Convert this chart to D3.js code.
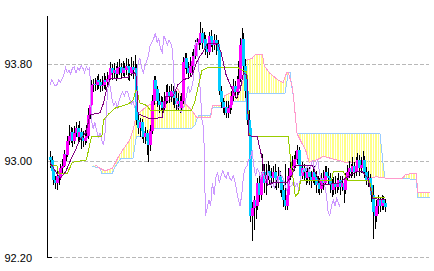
<!DOCTYPE html>
<html>
<head>
<meta charset="utf-8">
<script src="https://cdn.jsdelivr.net/npm/d3@7"></script>
<style>
body { margin: 0; background: #fff; }
svg { display: block; }
</style>
</head>
<body>
<div id="chart"></div>
<script>
// price bars, open = previous close
const firstOpen = 93.03
const closes = [
  93.01, 92.92, 92.84, 92.82, 92.88, 92.86, 92.94, 92.96, 93.06, 93.05,
  93.17, 93.21, 93.24, 93.17, 93.23, 93.27, 93.20, 93.24, 93.19, 93.17,
  93.19, 93.21, 93.38, 93.46, 93.63, 93.64, 93.63, 93.67, 93.65, 93.62,
  93.63, 93.67, 93.65, 93.68, 93.71, 93.77, 93.73, 93.75, 93.72, 93.77,
  93.78, 93.73, 93.77, 93.75, 93.79, 93.77, 93.73, 93.78, 93.75, 93.77,
  93.34, 93.27, 93.32, 93.25, 93.20, 93.23, 93.17, 93.13, 93.25, 93.50,
  93.67, 93.60, 93.50, 93.46, 93.49, 93.44, 93.50, 93.54, 93.57, 93.54,
  93.58, 93.57, 93.52, 93.47, 93.50, 93.44, 93.50, 93.82, 93.85, 93.77,
  93.73, 93.79, 93.83, 93.87, 93.96, 93.98, 94.01, 94.06, 93.98, 94.01,
  93.93, 93.90, 94.03, 94.00, 93.96, 94.00, 93.97, 93.91, 93.58, 93.49,
  93.44, 93.45, 93.40, 93.44, 93.46, 93.54, 93.62, 93.57, 93.60, 93.68,
  93.96, 94.01, 93.79, 93.58, 93.34, 93.27, 92.55, 92.61, 92.68, 92.63,
  92.82, 92.72, 92.86, 92.91, 92.82, 92.88, 92.92, 92.88, 92.86, 92.91,
  92.86, 92.84, 92.88, 92.84, 92.76, 92.68, 92.63, 92.72, 92.88, 92.94,
  92.96, 93.01, 93.02, 93.09, 92.96, 92.88, 92.94, 92.91, 92.86, 92.91,
  92.87, 92.84, 92.91, 92.87, 92.80, 92.82, 92.77, 92.86, 92.82, 92.91,
  92.88, 92.86, 92.80, 92.76, 92.82, 92.79, 92.80, 92.84, 92.79, 92.82,
  92.76, 92.86, 92.91, 92.94, 92.91, 92.96, 92.91, 92.96, 93.01, 92.94,
  92.97, 93.01, 92.91, 92.84, 92.86, 92.80, 92.72, 92.58, 92.55, 92.63,
  92.68, 92.63, 92.69, 92.65, 92.62
]
const highs = [
  93.08, 93.04, 92.95, 92.88, 92.92, 92.93, 92.98, 93.02, 93.09, 93.12,
  93.21, 93.30, 93.28, 93.27, 93.29, 93.32, 93.30, 93.33, 93.27, 93.25,
  93.26, 93.30, 93.44, 93.55, 93.67, 93.68, 93.69, 93.70, 93.72, 93.68,
  93.70, 93.73, 93.70, 93.74, 93.76, 93.82, 93.80, 93.81, 93.79, 93.82,
  93.84, 93.81, 93.83, 93.81, 93.85, 93.84, 93.80, 93.86, 93.83, 93.88,
  93.80, 93.38, 93.36, 93.35, 93.30, 93.28, 93.26, 93.22, 93.30, 93.55,
  93.70, 93.70, 93.62, 93.56, 93.54, 93.53, 93.57, 93.63, 93.64, 93.62,
  93.64, 93.62, 93.60, 93.58, 93.56, 93.54, 93.56, 93.86, 93.89, 93.89,
  93.82, 93.86, 93.90, 93.93, 94.00, 94.02, 94.06, 94.15, 94.10, 94.07,
  94.04, 93.97, 94.07, 94.08, 94.03, 94.05, 94.04, 94.00, 93.94, 93.62,
  93.52, 93.50, 93.50, 93.50, 93.52, 93.58, 93.68, 93.66, 93.70, 93.83,
  94.02, 94.10, 94.06, 93.84, 93.62, 93.42, 93.30, 92.66, 92.71, 92.74,
  92.86, 92.89, 92.91, 93.06, 92.98, 92.98, 93.00, 92.97, 92.94, 92.96,
  92.98, 92.92, 92.95, 92.92, 92.88, 92.80, 92.98, 92.80, 92.94, 93.00,
  93.04, 93.05, 93.08, 93.13, 93.12, 93.00, 92.99, 92.98, 92.95, 92.96,
  92.95, 92.92, 92.98, 92.96, 92.92, 92.88, 92.86, 92.90, 92.93, 92.96,
  92.96, 92.94, 92.90, 92.85, 92.87, 92.88, 92.86, 92.90, 92.88, 92.88,
  92.86, 92.90, 92.97, 93.00, 92.98, 93.03, 92.99, 93.03, 93.07, 93.05,
  93.03, 93.08, 93.04, 92.95, 92.92, 92.89, 92.84, 92.80, 92.63, 92.68,
  92.72, 92.70, 92.72, 92.71, 92.69
]
const lows = [
  92.94, 92.90, 92.80, 92.77, 92.76, 92.80, 92.84, 92.90, 92.95, 93.00,
  93.03, 93.13, 93.15, 93.12, 93.14, 93.20, 93.14, 93.16, 93.10, 93.12,
  93.13, 93.15, 93.18, 93.35, 93.44, 93.57, 93.58, 93.59, 93.60, 93.57,
  93.58, 93.60, 93.59, 93.62, 93.64, 93.68, 93.67, 93.68, 93.66, 93.69,
  93.71, 93.68, 93.70, 93.69, 93.71, 93.67, 93.66, 93.70, 93.68, 93.70,
  93.30, 93.22, 93.20, 93.18, 93.15, 93.14, 93.05, 92.99, 93.08, 93.22,
  93.46, 93.55, 93.45, 93.40, 93.42, 93.40, 93.42, 93.47, 93.48, 93.48,
  93.49, 93.46, 93.44, 93.42, 93.41, 93.40, 93.41, 93.47, 93.76, 93.72,
  93.68, 93.70, 93.74, 93.80, 93.84, 93.90, 93.92, 93.96, 93.93, 93.92,
  93.88, 93.85, 93.88, 93.94, 93.90, 93.92, 93.88, 93.85, 93.55, 93.44,
  93.40, 93.38, 93.36, 93.36, 93.39, 93.42, 93.50, 93.52, 93.52, 93.56,
  93.65, 93.90, 93.74, 93.52, 93.30, 93.20, 92.50, 92.34, 92.43, 92.52,
  92.60, 92.66, 92.68, 92.83, 92.74, 92.72, 92.84, 92.80, 92.78, 92.80,
  92.78, 92.76, 92.78, 92.74, 92.70, 92.62, 92.60, 92.60, 92.70, 92.84,
  92.88, 92.92, 92.94, 92.98, 92.90, 92.82, 92.85, 92.84, 92.80, 92.82,
  92.80, 92.78, 92.82, 92.80, 92.74, 92.74, 92.72, 92.74, 92.76, 92.80,
  92.82, 92.80, 92.74, 92.70, 92.72, 92.73, 92.74, 92.76, 92.72, 92.75,
  92.65, 92.73, 92.84, 92.86, 92.86, 92.88, 92.86, 92.88, 92.92, 92.88,
  92.90, 92.94, 92.86, 92.80, 92.79, 92.74, 92.66, 92.36, 92.44, 92.50,
  92.56, 92.58, 92.60, 92.60, 92.58
]

// ichimoku lines: [bar index, price]
const tenkan = [
  [0, 92.99], [3, 92.92], [6, 92.86], [9, 92.91], [12, 93.01], [15, 93.10], [17, 93.17],
  [21, 93.24], [23, 93.38], [29, 93.40], [31, 93.48], [33, 93.61], [35, 93.68], [45, 93.69],
  [47, 93.72], [49, 93.73], [50, 93.70], [51, 93.39], [58, 93.35], [65, 93.36], [67, 93.53],
  [71, 93.53], [74, 93.63], [77, 93.67], [82, 93.70], [85, 93.82], [87, 93.87], [89, 93.91],
  [91, 93.97], [97, 93.97], [99, 93.90], [102, 93.71], [105, 93.61], [108, 93.52], [110, 93.58],
  [112, 93.73], [114, 93.71], [115, 93.21], [120, 93.20], [123, 93.01], [124, 92.91], [126, 92.80],
  [129, 92.82], [137, 92.82], [140, 92.88], [142, 92.96], [152, 92.96], [155, 92.86], [157, 92.80],
  [168, 92.82], [171, 92.86], [177, 92.91], [181, 92.91], [184, 92.86], [187, 92.69], [194, 92.68]
]
const kijun = [
  [0, 92.96], [4, 92.96], [5, 92.90], [10, 92.90], [12, 92.96], [13, 92.99], [21, 93.01],
  [22, 93.07], [24, 93.20], [30, 93.20], [31, 93.34], [34, 93.39], [38, 93.44], [45, 93.47],
  [48, 93.50], [50, 93.60], [52, 93.48], [56, 93.46], [58, 93.42], [82, 93.42], [84, 93.50],
  [86, 93.63], [88, 93.75], [91, 93.77], [109, 93.77], [113, 93.74], [114, 93.74], [115, 93.23],
  [117, 93.20], [138, 93.20], [139, 93.05], [142, 92.71], [144, 92.74], [145, 92.84], [163, 92.84],
  [164, 92.91], [170, 92.91], [172, 92.84], [185, 92.84], [187, 92.70], [194, 92.70]
]
const spanA = [
  [26, 92.97], [29, 92.94], [32, 92.92], [36, 92.94], [38, 92.99], [39, 93.02], [42, 93.09],
  [46, 93.17], [48, 93.25], [50, 93.38], [55, 93.44], [58, 93.47], [69, 93.50], [72, 93.54],
  [74, 93.60], [76, 93.54], [78, 93.48], [82, 93.42], [85, 93.36], [93, 93.36], [94, 93.46],
  [100, 93.46], [101, 93.54], [105, 93.57], [110, 93.60], [112, 93.67], [113, 93.83], [117, 93.85],
  [119, 93.88], [123, 93.88], [124, 93.79], [127, 93.73], [132, 93.67], [135, 93.65], [137, 93.73],
  [138, 93.73], [140, 93.63], [141, 93.53], [142, 93.38], [143, 93.23], [145, 93.17], [148, 93.09],
  [150, 92.99], [156, 93.02], [158, 93.04], [166, 93.01], [171, 92.99], [178, 92.99], [181, 92.91],
  [185, 92.86], [189, 92.87], [194, 92.86], [204, 92.86], [206, 92.89], [212, 92.90], [213, 92.74],
  [220, 92.74]
]
const spanB = [
  [24, 92.96], [29, 92.94], [30, 92.90], [36, 92.90], [38, 92.96], [39, 92.98], [41, 93.02],
  [48, 93.02], [50, 93.20], [57, 93.20], [58, 93.27], [82, 93.27], [84, 93.30], [86, 93.38],
  [93, 93.38], [94, 93.44], [104, 93.44], [105, 93.49], [113, 93.49], [114, 93.56], [136, 93.56],
  [138, 93.73], [139, 93.73], [140, 93.61], [141, 93.53], [142, 93.38], [143, 93.23], [191, 93.23],
  [193, 92.96], [194, 92.86], [212, 92.85], [213, 92.70], [220, 92.70]
]

const yTicks = [92.2, 93.0, 93.8]
const lagBars = 26
const leadBars = 26

const W = 434, H = 271

const svg = d3.select("#chart").append("svg")
    .attr("width", W)
    .attr("height", H)
    .attr("shape-rendering", "crispEdges")

const lastIndex = closes.length - 1 + leadBars
const x = d3.scaleLinear([0, lastIndex], [50, 430])
const y = d3.scaleLinear([92.2, 94.2], [257.9, 15.9])

const opens = closes.map((c, i) => i === 0 ? firstOpen : closes[i - 1])

const line = d3.line().x(d => x(d[0])).y(d => y(d[1]))

// clip shape of the cloud between the two spans
svg.append("defs").append("clipPath")
    .attr("id", "cloud")
  .append("path")
    .attr("d", line(spanA.concat(spanB.slice().reverse())) + "Z")

// dashed grid
svg.append("g").selectAll("line")
  .data(yTicks)
  .join("line")
    .attr("x1", 48).attr("x2", 429)
    .attr("y1", d => Math.floor(y(d)) + 0.5)
    .attr("y2", d => Math.floor(y(d)) + 0.5)
    .attr("stroke", "#b8b8b8")
    .attr("stroke-dasharray", "4,2")

// cloud hatching: one thin vertical stroke per bar
svg.append("g")
    .attr("clip-path", "url(#cloud)")
  .selectAll("line")
  .data(d3.range(spanB[0][0], lastIndex + 1))
  .join("line")
    .attr("x1", i => Math.round(x(i)) + 0.5)
    .attr("x2", i => Math.round(x(i)) + 0.5)
    .attr("y1", 0)
    .attr("y2", H)
    .attr("stroke", "#ffff88")

function drawLine(data, color) {
    svg.append("path")
        .attr("d", line(data))
        .attr("fill", "none")
        .attr("stroke", color)
        .attr("stroke-width", 1)
}

drawLine(spanB, "#99ccff")
drawLine(spanA, "#ff99cc")

// candles: wicks first, bodies on top
const idx = d3.range(closes.length)

svg.append("g").selectAll("line")
  .data(idx)
  .join("line")
    .attr("x1", i => Math.round(x(i)) + 0.5)
    .attr("x2", i => Math.round(x(i)) + 0.5)
    .attr("y1", i => y(highs[i]))
    .attr("y2", i => y(lows[i]))
    .attr("stroke", "#000")

svg.append("g").selectAll("rect")
  .data(idx)
  .join("rect")
    .attr("x", i => Math.round(x(i)) - 1)
    .attr("width", 3)
    .attr("y", i => y(Math.max(opens[i], closes[i])))
    .attr("height", i => Math.max(1, Math.abs(y(opens[i]) - y(closes[i]))))
    .attr("fill", i => closes[i] > opens[i] ? "#ff00ff" : "#00ccff")

// lines over the bars
const chikou = closes.map((c, i) => [i - lagBars, c]).filter(d => d[0] >= 0)
drawLine(chikou, "#cc99ff")
drawLine(kijun, "#99cc00")
drawLine(tenkan, "#800080")

// axis
const axis = svg.append("g")
    .attr("transform", "translate(47,0)")
    .call(d3.axisLeft(y)
        .tickValues(yTicks)
        .tickFormat(d3.format(".2f"))
        .tickSizeInner(0)
        .tickSizeOuter(0)
        .tickPadding(15))
axis.selectAll("text")
    .attr("font-family", "'Liberation Sans', Arial, sans-serif")
    .attr("font-size", 11)
    .attr("fill", "#000")
axis.select(".domain").attr("stroke", "#000")

svg.append("line")
    .attr("x1", 47).attr("x2", 52)
    .attr("y1", Math.floor(y(92.2)) + 0.5)
    .attr("y2", Math.floor(y(92.2)) + 0.5)
    .attr("stroke", "#000")
</script>
</body>
</html>
